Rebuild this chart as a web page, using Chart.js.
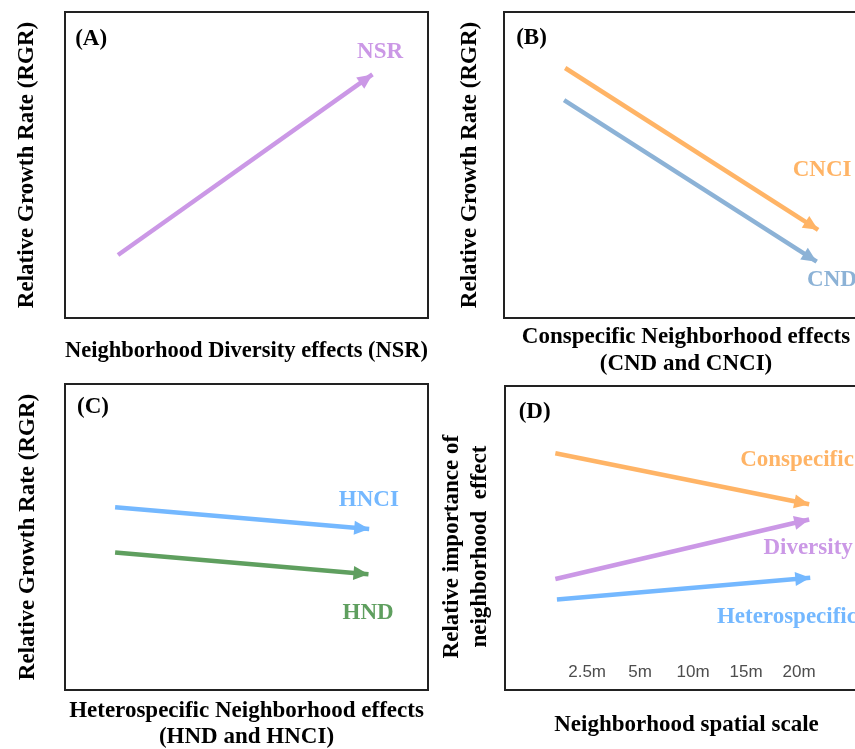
<!DOCTYPE html>
<html>
<head>
<meta charset="utf-8">
<script src="https://cdn.jsdelivr.net/npm/chart.js@4/dist/chart.umd.min.js"></script>
<style>
  html, body { margin: 0; padding: 0; background: #ffffff; overflow: hidden; }
  #fig { position: relative; width: 855px; height: 749px; overflow: hidden; background: #ffffff; }
  #fig canvas { position: absolute; }
</style>
</head>
<body>
<div id="fig">
  <canvas id="panelA" width="430" height="370" style="left:0px;top:0px"></canvas>
  <canvas id="panelB" width="440" height="380" style="left:430px;top:0px"></canvas>
  <canvas id="panelC" width="430" height="385" style="left:0px;top:370px"></canvas>
  <canvas id="panelD" width="440" height="379" style="left:430px;top:370px"></canvas>
</div>
<script>
// ---- Conceptual trends (relative units on a 0-10 scale) ----
// (A) neighborhood diversity effect
const nsrEffect = [1.46, 8.47];
const nsrRGR    = [2.06, 7.96];

// (B) conspecific neighborhood effects
const cnciEffect = [1.68, 8.63];
const cnciRGR    = [8.17, 2.88];
const cndEffect  = [1.65, 8.59];
const cndRGR     = [7.12, 1.84];

// (C) heterospecific neighborhood effects
const hnciEffect = [1.38, 8.38];
const hnciRGR    = [5.97, 5.26];
const hndEffect  = [1.38, 8.36];
const hndRGR     = [4.49, 3.78];

// (D) importance across neighborhood radii (x in radius-category index)
const radiusLabels       = ['2.5m', '5m', '10m', '15m', '20m'];
const conspecificScale   = [-0.60, 4.19];
const conspecificImport  = [7.79, 6.11];
const diversityScale     = [-0.60, 4.19];
const diversityImport    = [3.65, 5.61];
const heteroScale        = [-0.57, 4.21];
const heteroImport       = [2.98, 3.69];

// ---- colours ----
const PURPLE = '#cb98e6';
const ORANGE = '#ffb466';
const STEEL  = '#8cb2d6';
const SKY    = '#74b8ff';
const GREEN  = '#5f9f5f';

const SERIF = '"Liberation Serif", "Times New Roman", serif';

function pts(xs, ys) { return xs.map((x, i) => ({ x: x, y: ys[i] })); }

function arrowSet(xs, ys, color) {
  return {
    data: pts(xs, ys),
    borderColor: color,
    backgroundColor: color,
    borderWidth: 4.5,
    borderCapStyle: 'butt',
    pointRadius: 0,
    pointHoverRadius: 0,
    tension: 0,
    clip: false
  };
}

// black frame round the plotting area
const framePlugin = {
  id: 'frame',
  afterDraw(chart) {
    const a = chart.chartArea, ctx = chart.ctx;
    ctx.save();
    ctx.strokeStyle = '#222222';
    ctx.lineWidth = 2;
    ctx.strokeRect(a.left, a.top, a.right - a.left, a.bottom - a.top);
    ctx.restore();
  }
};

// arrow heads at the last point of each line
const arrowHeadPlugin = {
  id: 'arrowHeads',
  afterDatasetsDraw(chart) {
    const ctx = chart.ctx;
    chart.data.datasets.forEach((ds, i) => {
      const meta = chart.getDatasetMeta(i);
      const n = meta.data.length;
      if (n < 2) return;
      const p0 = meta.data[n - 2], p1 = meta.data[n - 1];
      const ang = Math.atan2(p1.y - p0.y, p1.x - p0.x);
      const len = 15, half = 7;
      ctx.save();
      ctx.translate(p1.x, p1.y);
      ctx.rotate(ang);
      ctx.beginPath();
      ctx.moveTo(0, 0);
      ctx.lineTo(-len, -half);
      ctx.lineTo(-len, half);
      ctx.closePath();
      ctx.fillStyle = ds.borderColor;
      ctx.fill();
      ctx.restore();
    });
  }
};

// text annotations placed in data units
const annotationPlugin = {
  id: 'annotations',
  afterDraw(chart, args, opts) {
    const ctx = chart.ctx;
    const xs = chart.scales.x, ys = chart.scales.y;
    (opts.items || []).forEach(it => {
      ctx.save();
      ctx.font = 'bold 23px ' + SERIF;
      ctx.fillStyle = it.color || '#000000';
      ctx.textAlign = 'center';
      ctx.textBaseline = 'middle';
      ctx.fillText(it.text, xs.getPixelForValue(it.x), ys.getPixelForValue(it.y));
      ctx.restore();
    });
  }
};

function titleFont(lh) { return { family: SERIF, size: 23, weight: 'bold', lineHeight: lh }; }

function makePanel(id, cfg) {
  const xScale = Object.assign({
    type: 'linear', min: 0, max: 10,
    grid: { display: false, drawTicks: false },
    border: { display: false },
    ticks: { display: false },
    title: {
      display: true, text: cfg.xTitle, color: '#000000',
      font: titleFont(cfg.xLH), padding: cfg.xPad
    }
  }, cfg.xExtra || {});
  return new Chart(document.getElementById(id), {
    type: 'line',
    data: { datasets: cfg.datasets },
    options: {
      responsive: false,
      animation: false,
      devicePixelRatio: 1,
      layout: { padding: cfg.layout },
      plugins: {
        legend: { display: false },
        tooltip: { enabled: false },
        annotations: { items: cfg.notes }
      },
      scales: {
        x: xScale,
        y: {
          type: 'linear', min: 0, max: 10,
          grid: { display: false, drawTicks: false },
          border: { display: false },
          ticks: { display: false },
          title: {
            display: true, text: cfg.yTitle, color: '#000000',
            font: titleFont(cfg.yLH), padding: cfg.yPad
          }
        }
      }
    },
    plugins: [framePlugin, arrowHeadPlugin, annotationPlugin]
  });
}

// (A)
makePanel('panelA', {
  datasets: [arrowSet(nsrEffect, nsrRGR, PURPLE)],
  xTitle: 'Neighborhood Diversity effects (NSR)', xLH: '26.4px', xPad: { top: 19.8, bottom: 5.8 },
  yTitle: 'Relative Growth Rate (RGR)', yLH: '26.4px', yPad: { top: 14.3, bottom: 24.3 },
  layout: { top: 12, right: 2, left: 0, bottom: 0 },
  notes: [
    { text: '(A)', x: 0.72, y: 9.12 },
    { text: 'NSR', x: 8.68, y: 8.69, color: PURPLE }
  ]
});

// (B)
makePanel('panelB', {
  datasets: [arrowSet(cnciEffect, cnciRGR, ORANGE), arrowSet(cndEffect, cndRGR, STEEL)],
  xTitle: ['Conspecific Neighborhood effects', '(CND and CNCI)'], xLH: '27px', xPad: { top: 5.5, bottom: 2.5 },
  yTitle: 'Relative Growth Rate (RGR)', yLH: '26.4px', yPad: { top: 26.8, bottom: 20.8 },
  layout: { top: 12, right: 2, left: 0, bottom: 0 },
  notes: [
    { text: '(B)', x: 0.755, y: 9.15 },
    { text: 'CNCI', x: 8.74, y: 4.84, color: ORANGE },
    { text: 'CND', x: 9.01, y: 1.24, color: STEEL }
  ]
});

// (C)
makePanel('panelC', {
  datasets: [arrowSet(hnciEffect, hnciRGR, SKY), arrowSet(hndEffect, hndRGR, GREEN)],
  xTitle: ['Heterospecific Neighborhood effects', '(HND and HNCI)'], xLH: '26px', xPad: { top: 8, bottom: 5 },
  yTitle: 'Relative Growth Rate (RGR)', yLH: '26.4px', yPad: { top: 14.8, bottom: 23.8 },
  layout: { top: 14, right: 2, left: 0, bottom: 0 },
  notes: [
    { text: '(C)', x: 0.77, y: 9.26 },
    { text: 'HNCI', x: 8.37, y: 6.21, color: SKY },
    { text: 'HND', x: 8.35, y: 2.51, color: GREEN }
  ]
});

// (D)
makePanel('panelD', {
  datasets: [
    arrowSet(conspecificScale, conspecificImport, ORANGE),
    arrowSet(diversityScale, diversityImport, PURPLE),
    arrowSet(heteroScale, heteroImport, SKY)
  ],
  xTitle: 'Neighborhood spatial scale', xLH: '26.4px', xPad: { top: 5, bottom: 10.8 },
  xExtra: {
    min: -1.55, max: 5.3,
    afterBuildTicks(axis) { axis.ticks = radiusLabels.map((_, i) => ({ value: i })); },
    ticks: {
      display: true, mirror: true, padding: 8.4, autoSkip: false, maxRotation: 0,
      color: '#4d4d4d',
      font: { family: '"Liberation Sans", Arial, sans-serif', size: 17, lineHeight: '19.2px' },
      callback: (v) => radiusLabels[v]
    }
  },
  yTitle: ['Relative importance of   ', 'neighborhood  effect   '], yLH: '28px', yPad: { top: 8, bottom: 11 },
  layout: { top: 16, right: 2, left: 0, bottom: 0 },
  notes: [
    { text: '(D)', x: -0.99, y: 9.14 },
    { text: 'Conspecific', x: 3.96, y: 7.57, color: ORANGE },
    { text: 'Diversity', x: 4.17, y: 4.67, color: PURPLE },
    { text: 'Heterospecific', x: 3.77, y: 2.40, color: SKY }
  ]
});
</script>
</body>
</html>
